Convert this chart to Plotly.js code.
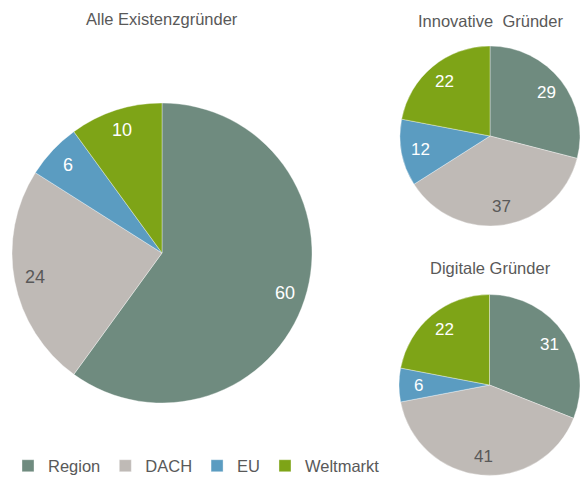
<!DOCTYPE html>
<html>
<head>
<meta charset="utf-8">
<script src="https://cdn.plot.ly/plotly-3.0.1.min.js"></script>
<style>html,body{margin:0;padding:0;background:#fff;}</style>
</head>
<body>
<div id="chart" style="width:580px;height:480px;"></div>
<script>
const categories = ["Region", "DACH", "EU", "Weltmarkt"];
const alleValues = [60, 24, 6, 10];
const innovativeValues = [29, 37, 12, 22];
const digitaleValues = [31, 41, 6, 22];
const chartTitles = ["Alle Existenzgründer", "Innovative  Gründer", "Digitale Gründer"];

const colors = ["#6F8B7F", "#BFBAB6", "#5B9CC1", "#7EA417"];
const textColors = ["#FFFFFF", "#595959", "#FFFFFF", "#FFFFFF"];
const fontFam = "Liberation Sans, Arial, sans-serif";
const W = 580, H = 480;

// pie placement (pixels): center x, center y, radius, label radius fraction
const pies = [
  {values: alleValues, cx: 162, cy: 253, r: 150, lf: 0.86, title: chartTitles[0], ty: 19, fs: 18},
  {values: innovativeValues, cx: 490, cy: 136, r: 90, lf: 0.79, title: chartTitles[1], ty: 21, fs: 17},
  {values: digitaleValues, cx: 490, cy: 385, r: 91, lf: 0.79, title: chartTitles[2], ty: 268, fs: 17}
];

const data = pies.map((p, i) => ({
  type: "pie",
  labels: categories,
  values: p.values,
  sort: false,
  direction: "clockwise",
  rotation: 0,
  domain: {
    x: [(p.cx - p.r) / W, (p.cx + p.r) / W],
    y: [1 - (p.cy + p.r) / H, 1 - (p.cy - p.r) / H]
  },
  marker: {colors: colors, line: {color: "rgba(255,255,255,0.6)", width: 0.6}},
  textinfo: "none",
  hoverinfo: "label+value",
  showlegend: i === 0
}));

const annotations = [];
pies.forEach(p => {
  annotations.push({
    text: p.title, x: p.cx / W, y: 1 - p.ty / H, xref: "paper", yref: "paper",
    showarrow: false, xanchor: "center", yanchor: "middle",
    font: {family: fontFam, size: 16.5, color: "#595959"}
  });
  const total = p.values.reduce((a, b) => a + b, 0);
  let cum = 0;
  p.values.forEach((v, k) => {
    const mid = (cum + v / 2) / total * 2 * Math.PI;
    cum += v;
    const px = p.cx + p.lf * p.r * Math.sin(mid);
    const py = p.cy - p.lf * p.r * Math.cos(mid);
    annotations.push({
      text: String(v), x: px / W, y: 1 - py / H, xref: "paper", yref: "paper",
      showarrow: false, xanchor: "center", yanchor: "middle",
      font: {family: fontFam, size: p.fs, color: textColors[k]}
    });
  });
});

const layout = {
  width: W,
  height: H,
  margin: {l: 0, r: 0, t: 0, b: 0, autoexpand: false},
  paper_bgcolor: "#FFFFFF",
  font: {family: fontFam, color: "#595959", size: 16.5},
  showlegend: true,
  legend: {
    orientation: "h",
    xref: "container", yref: "container",
    x: 0.0138, y: 14 / 480,
    xanchor: "left", yanchor: "middle",
    font: {family: fontFam, size: 16.5, color: "#595959"},
    itemwidth: 30,
    traceorder: "normal"
  },
  annotations: annotations
};

Plotly.newPlot("chart", data, layout, {displayModeBar: false, responsive: false});
</script>
</body>
</html>
